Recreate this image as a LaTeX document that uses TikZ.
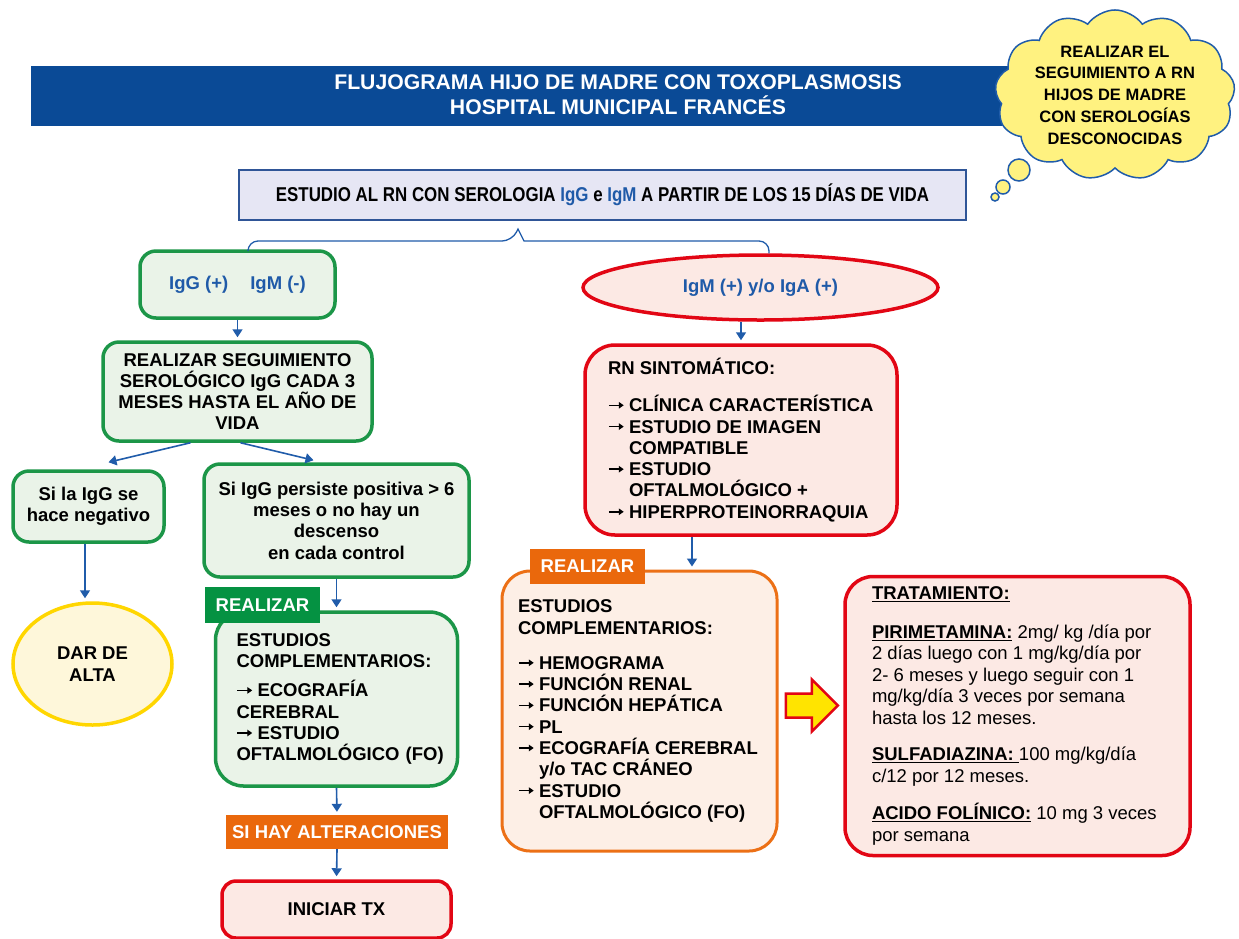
\documentclass[tikz,border=0pt]{standalone}
\usepackage{fontspec}
\usepackage{graphicx}
\setmainfont{Liberation Sans}
\usetikzlibrary{shapes.geometric,shapes.symbols,arrows.meta,calc}
\definecolor{tblue}{RGB}{10,74,150}
\definecolor{lblue}{RGB}{32,92,170}
\definecolor{tblue2}{RGB}{31,90,168}
\definecolor{bbord}{RGB}{47,85,151}
\definecolor{topf}{RGB}{230,230,244}
\definecolor{grn}{RGB}{28,150,72}
\definecolor{grnf}{RGB}{234,243,232}
\definecolor{glab}{RGB}{5,146,66}
\definecolor{redb}{RGB}{226,6,20}
\definecolor{redf}{RGB}{252,233,228}
\definecolor{ornb}{RGB}{236,112,22}
\definecolor{ornf}{RGB}{253,239,230}
\definecolor{olab}{RGB}{234,104,12}
\definecolor{yelb}{RGB}{255,214,0}
\definecolor{yelf}{RGB}{254,247,218}
\definecolor{cloudy}{RGB}{255,242,128}
\definecolor{arry}{RGB}{255,228,0}
\newcommand\fb{\fontsize{18.5}{21.3}\selectfont\bfseries}
\newcommand\fr{\fontsize{18.5}{21.5}\selectfont}
\newcommand\ft{\fontsize{21.2}{25}\selectfont\bfseries}
\newcommand\fc{\fontsize{16.5}{21.8}\selectfont\bfseries}
\newcommand\ftop{\fontsize{20}{24}\selectfont\bfseries}
\newcommand\myarr{\makebox[21pt][l]{\tikz[baseline=0pt]\draw[line width=1.5pt,-{Triangle[length=5pt,width=6.5pt]}] (0pt,6.5pt) -- (15pt,6.5pt);}}
\newcommand\myind{\hspace*{21pt}}
\tikzset{
  conn/.style={draw=lblue, line width=1.6pt, -{Triangle[width=10pt,length=8pt]}, shorten >=3pt},
  gbox/.style={draw=grn, fill=grnf, line width=3.5pt, rounded corners=16pt, align=center, inner sep=0pt, font=\fb},
  rbox/.style={draw=redb, fill=redf, line width=3.5pt, rounded corners=24pt, align=center, inner sep=0pt, font=\fb},
  obox/.style={draw=ornb, fill=ornf, line width=3pt, rounded corners=28pt, align=center, inner sep=0pt, font=\fb},
  lab/.style={inner sep=0pt, font=\fb, text=white},
  bubble/.style={circle, draw=lblue, fill=cloudy, line width=1.5pt, inner sep=0pt}
}
\begin{document}
\begin{tikzpicture}[x=1pt,y=-1pt]
\useasboundingbox (0,0) rectangle (1239,938);
\fill[white] (0,0) rectangle (1239,938);

% title bar
\node[fill=tblue, minimum width=979, minimum height=60, anchor=north west, inner sep=0pt] (bar) at (31,66) {};
\node[font=\ft, text=white, align=center] (title) at (618,95) {FLUJOGRAMA HIJO DE MADRE CON TOXOPLASMOSIS\\HOSPITAL MUNICIPAL FRANCÉS};

% cloud
\node[cloud, cloud puffs=13, cloud puff arc=110, aspect=1.55, draw=lblue, fill=cloudy, line width=1.5pt, minimum width=240, minimum height=152, font=\fc, align=center, inner sep=0pt] (cloud) at (1115,95) {REALIZAR EL\\SEGUIMIENTO A RN\\HIJOS DE MADRE\\CON SEROLOGÍAS\\DESCONOCIDAS};
\node[bubble, minimum size=22] (b1) at (1019,170) {};
\node[bubble, minimum size=14] (b2) at (1003,187) {};
\node[bubble, minimum size=8] (b3) at (995,197) {};

% top box
\node[draw=bbord, fill=topf, line width=2pt, minimum width=727, minimum height=50, inner sep=0pt, font=\ftop] (top) at (602.5,195) {\scalebox{0.845}[1]{ESTUDIO AL RN CON SEROLOGIA \textcolor{tblue2}{IgG} e \textcolor{tblue2}{IgM} A PARTIR DE LOS 15 DÍAS DE VIDA}};

% left branch
\node[gbox, minimum width=195, minimum height=67, text=tblue2] (igg) at (237.5,284.5) {IgG (+)\hspace{22pt}IgM (-)};
\node[gbox, minimum width=269, minimum height=99] (seg) at (237.5,391.5) {REALIZAR SEGUIMIENTO\\SEROLÓGICO IgG CADA 3\\MESES HASTA EL AÑO DE\\VIDA};
\node[gbox, minimum width=151, minimum height=71] (neg) at (88.5,506.5) {Si la IgG se\\hace negativo};
\node[gbox, minimum width=265, minimum height=113] (pers) at (336.5,520.5) {Si IgG persiste positiva > 6\\meses o no hay un\\descenso\\en cada control};
\node[ellipse, draw=yelb, fill=yelf, line width=3.5pt, minimum width=159, minimum height=122, font=\fb, align=center, inner sep=0pt] (alta) at (92.5,664) {DAR DE\\ALTA};
\node[gbox, minimum width=242, minimum height=174, rounded corners=28pt, align=left, text width=200pt] (gest) at (336.5,699) {ESTUDIOS\\\mbox{COMPLEMENTARIOS:}\\[8pt]\myarr ECOGRAFÍA\\CEREBRAL\\\myarr ESTUDIO\\\mbox{OFTALMOLÓGICO (FO)}};
\node[lab, fill=glab, minimum width=115, minimum height=36] (glab) at (262.5,605) {REALIZAR};
\node[lab, fill=olab, minimum width=222, minimum height=34] (alter) at (337,832) {SI HAY ALTERACIONES};
\node[rbox, minimum width=229, minimum height=57, rounded corners=14pt] (tx) at (336.5,909.5) {INICIAR TX};

% right branch
\node[ellipse, draw=redb, fill=redf, line width=3.5pt, minimum width=355, minimum height=65, text=tblue2, font=\fb, inner sep=0pt] (igm) at (760.5,287.5) {IgM (+) y/o IgA (+)};
\node[rbox, minimum width=312, minimum height=190, align=left, rounded corners=30pt] (rn) at (741,440) {\makebox[266pt][l]{RN SINTOMÁTICO:}\\[16pt]\myarr CLÍNICA CARACTERÍSTICA\\\myarr ESTUDIO DE IMAGEN\\\myind COMPATIBLE\\\myarr ESTUDIO\\\myind OFTALMOLÓGICO +\\\myarr HIPERPROTEINORRAQUIA};
\node[obox, minimum width=275, minimum height=280, align=left] (oest) at (639.5,711) {\makebox[243pt][l]{ESTUDIOS}\\COMPLEMENTARIOS:\\[14pt]\myarr HEMOGRAMA\\\myarr FUNCIÓN RENAL\\\myarr FUNCIÓN HEPÁTICA\\\myarr PL\\\myarr ECOGRAFÍA CEREBRAL\\\myind y/o TAC CRÁNEO\\\myarr ESTUDIO\\\myind OFTALMOLÓGICO (FO)};
\node[lab, fill=olab, minimum width=115, minimum height=35] (olab) at (587.5,566.5) {REALIZAR};
\node[rbox, minimum width=345, minimum height=279, align=left, font=\fr, rounded corners=28pt] (treat) at (1017.5,716) {\makebox[291pt][l]{\underline{\textbf{TRATAMIENTO:}}}\\[17pt]\underline{\textbf{PIRIMETAMINA:}} 2mg/ kg /día por\\2 días luego con 1 mg/kg/día por\\2- 6 meses y luego seguir con 1\\mg/kg/día 3 veces por semana\\hasta los 12 meses.\\[15pt]\underline{\textbf{SULFADIAZINA: }}100 mg/kg/día\\c/12 por 12 meses.\\[16pt]\underline{\textbf{ACIDO FOLÍNICO:}} 10 mg 3 veces\\por semana};

% brace
\coordinate (bl) at ($(igg.north)+(10.5,0)$);
\coordinate (br) at ($(igm.north)+(8.5,0)$);
\coordinate (bp) at ($(top.south)+(-84.5,8)$);
\draw[lblue, line width=1.3pt] (bl) [rounded corners=10pt] |- ($(bp)+(-6,12)$) [sharp corners] -- (bp) -- ($(bp)+(6,12)$) [rounded corners=10pt] -| (br);

% connectors
\draw[conn] (igg.south) -- (seg.north);
\draw[conn, shorten >=0pt] ($(seg.south)+(-47,0)$) -- ($(neg.north)+(20,-7)$);
\draw[conn, shorten >=0pt] ($(seg.south)+(3,0)$) -- ($(pers.north)+(-23,-2)$);
\draw[conn] ($(neg.south)+(-3.5,0)$) -- ($(alta.north)+(-7.5,0)$);
\draw[conn] (pers.south) -- (gest.north);
\draw[conn] (gest.south) -- (alter.north);
\draw[conn] (alter.south) -- (tx.north);
\draw[conn] (rn.north |- igm.south) -- (rn.north);
\draw[conn] ($(rn.south)+(-49,0)$) -- ($(oest.north)+(52.5,0)$);

% block arrow
\coordinate (bam) at ($(oest.east)!0.5!(treat.west)$);
\draw[draw=redb, fill=arry, line width=2.5pt, line join=miter] ($(bam)+(-25,-20)$) -- ($(bam)+(1,-20)$) -- ($(bam)+(1,-34)$) -- ($(bam)+(27,-8)$) -- ($(bam)+(1,18)$) -- ($(bam)+(1,4)$) -- ($(bam)+(-25,4)$) -- cycle;
\end{tikzpicture}
\end{document}
